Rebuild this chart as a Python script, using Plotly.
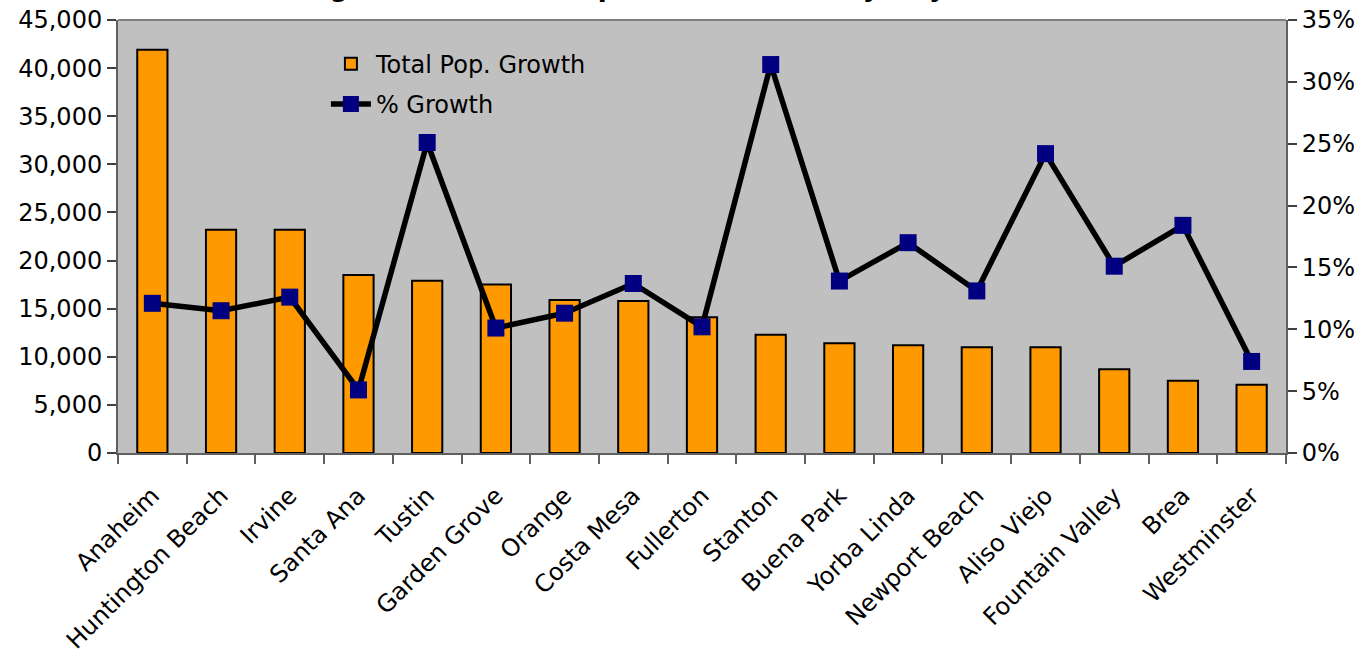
import plotly.graph_objects as go

cities = ["Anaheim", "Huntington Beach", "Irvine", "Santa Ana", "Tustin", "Garden Grove",
          "Orange", "Costa Mesa", "Fullerton", "Stanton", "Buena Park", "Yorba Linda",
          "Newport Beach", "Aliso Viejo", "Fountain Valley", "Brea", "Westminster"]
total_growth = [41900, 23200, 23200, 18500, 17900, 17500, 15900, 15800, 14100,
                12300, 11400, 11200, 11000, 11000, 8700, 7500, 7100]
pct_growth = [0.121, 0.115, 0.126, 0.051, 0.251, 0.101, 0.113, 0.137, 0.102,
              0.314, 0.139, 0.170, 0.131, 0.242, 0.151, 0.184, 0.074]

FONT = "DejaVu Sans"

fig = go.Figure()
fig.add_trace(go.Bar(
    x=cities, y=total_growth, name="Total Pop. Growth", legendgroup="a",
    marker=dict(color="#FF9900", line=dict(color="black", width=2)),
    width=0.44,
))
fig.add_trace(go.Scatter(
    x=cities, y=pct_growth, name="% Growth", yaxis="y2", mode="lines+markers",
    legendgroup="b",
    line=dict(color="black", width=5.5),
    marker=dict(symbol="square", size=17, color="#000080", line=dict(width=0)),
))

fig.add_annotation(
    text="<b>Largest Numerical Population Growth by City</b>",
    xref="paper", yref="paper", x=0.1396, y=1 + 16 / 433,
    xanchor="left", yanchor="bottom", showarrow=False,
    font=dict(family=FONT, size=26, color="black"),
)

fig.update_layout(
    width=1369, height=656,
    margin=dict(l=118, r=83, t=20, b=203, pad=0, autoexpand=False),
    paper_bgcolor="white", plot_bgcolor="#C0C0C0",
    font=dict(family=FONT, size=24, color="black"),
    showlegend=True,
    legend=dict(x=0.178, y=0.95, xanchor="left", yanchor="top",
                bgcolor="rgba(0,0,0,0)", font=dict(family=FONT, size=24),
                itemwidth=40, traceorder="grouped", tracegroupgap=6),
    xaxis=dict(
        type="category", range=[-0.5, 16.5], autorange=False,
        tickangle=-45, tickson="boundaries", ticklabelstandoff=17,
        ticks="outside", ticklen=9, tickcolor="#606060", tickwidth=2,
        showline=True, linecolor="#606060", linewidth=2, showgrid=False,
        tickfont=dict(family=FONT, size=24), mirror=False, automargin=False,
    ),
    yaxis=dict(
        range=[0, 45000], dtick=5000, tickformat=",", showgrid=False,
        ticks="outside", ticklen=9, tickcolor="#404040", tickwidth=2,
        showline=True, linecolor="#606060", linewidth=2, zeroline=False,
        tickfont=dict(family=FONT, size=24), automargin=False,
    ),
    yaxis2=dict(
        range=[0, 0.35], dtick=0.05, tickformat=".0%", overlaying="y", side="right",
        showgrid=False, ticks="outside", ticklen=9, tickcolor="#404040", tickwidth=2,
        showline=True, linecolor="#606060", linewidth=2, zeroline=False,
        tickfont=dict(family=FONT, size=24), automargin=False,
    ),
    shapes=[dict(type="line", xref="paper", yref="paper", x0=0, x1=1, y0=1, y1=1,
                 line=dict(color="#808080", width=2))],
)

fig.write_html("out.html")
